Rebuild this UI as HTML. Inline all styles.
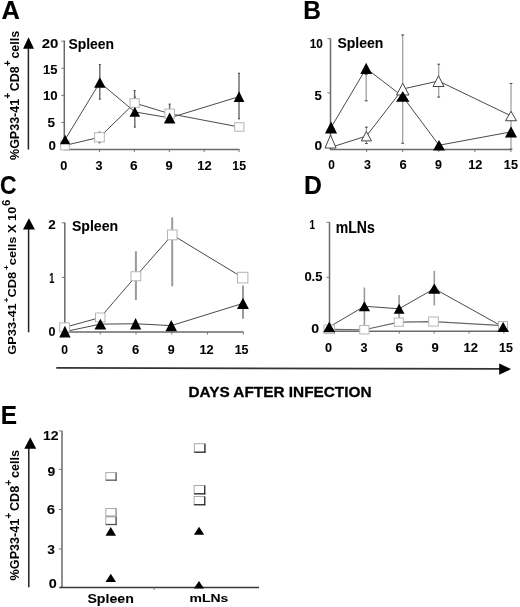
<!DOCTYPE html>
<html><head><meta charset="utf-8"><style>
html,body{margin:0;padding:0;background:#fff;}
svg{display:block;filter:grayscale(1) blur(0.3px);}
text{font-family:"Liberation Sans",sans-serif;fill:#000;stroke:#000;stroke-linejoin:round;}
</style></head><body>
<svg width="520" height="607" viewBox="0 0 520 607">
<rect width="520" height="607" fill="#fff"/>
<line x1="64.3" y1="40.5" x2="64.3" y2="149.6" stroke="#6a6a6a" stroke-width="1.5"/>
<line x1="63.599999999999994" y1="149.6" x2="239.5" y2="149.6" stroke="#6a6a6a" stroke-width="1.5"/>
<line x1="61.3" y1="41.2" x2="64.3" y2="41.2" stroke="#6a6a6a" stroke-width="0.9"/>
<line x1="61.3" y1="68.3" x2="64.3" y2="68.3" stroke="#6a6a6a" stroke-width="0.9"/>
<line x1="61.3" y1="95.4" x2="64.3" y2="95.4" stroke="#6a6a6a" stroke-width="0.9"/>
<line x1="61.3" y1="122.5" x2="64.3" y2="122.5" stroke="#6a6a6a" stroke-width="0.9"/>
<line x1="99.49" y1="149.6" x2="99.49" y2="152.1" stroke="#6a6a6a" stroke-width="0.9"/>
<line x1="134.38" y1="149.6" x2="134.38" y2="152.1" stroke="#6a6a6a" stroke-width="0.9"/>
<line x1="169.26999999999998" y1="149.6" x2="169.26999999999998" y2="152.1" stroke="#6a6a6a" stroke-width="0.9"/>
<line x1="204.16" y1="149.6" x2="204.16" y2="152.1" stroke="#6a6a6a" stroke-width="0.9"/>
<line x1="239.05" y1="149.6" x2="239.05" y2="152.1" stroke="#6a6a6a" stroke-width="0.9"/>
<line x1="99.8" y1="64.1" x2="99.8" y2="99.5" stroke="#666" stroke-width="1.4"/>
<line x1="98.8" y1="64.6" x2="100.8" y2="64.6" stroke="#555" stroke-width="1.1"/>
<line x1="98.8" y1="99.0" x2="100.8" y2="99.0" stroke="#555" stroke-width="1.1"/>
<line x1="134.8" y1="96.5" x2="134.8" y2="127.5" stroke="#666" stroke-width="1.4"/>
<line x1="133.8" y1="97.0" x2="135.8" y2="97.0" stroke="#555" stroke-width="1.1"/>
<line x1="133.8" y1="127.0" x2="135.8" y2="127.0" stroke="#555" stroke-width="1.1"/>
<line x1="134.6" y1="90" x2="134.6" y2="116" stroke="#666" stroke-width="1.4"/>
<line x1="133.6" y1="90.5" x2="135.6" y2="90.5" stroke="#555" stroke-width="1.1"/>
<line x1="133.6" y1="115.5" x2="135.6" y2="115.5" stroke="#555" stroke-width="1.1"/>
<line x1="169.6" y1="103.7" x2="169.6" y2="116" stroke="#666" stroke-width="1.4"/>
<line x1="168.6" y1="104.2" x2="170.6" y2="104.2" stroke="#555" stroke-width="1.1"/>
<line x1="168.6" y1="115.5" x2="170.6" y2="115.5" stroke="#555" stroke-width="1.1"/>
<line x1="239" y1="72.9" x2="239" y2="119.3" stroke="#666" stroke-width="1.4"/>
<line x1="238.0" y1="73.4" x2="240.0" y2="73.4" stroke="#555" stroke-width="1.1"/>
<line x1="238.0" y1="118.8" x2="240.0" y2="118.8" stroke="#555" stroke-width="1.1"/>
<line x1="99.5" y1="131.7" x2="99.5" y2="143.2" stroke="#666" stroke-width="1.4"/>
<line x1="98.5" y1="132.2" x2="100.5" y2="132.2" stroke="#555" stroke-width="1.1"/>
<line x1="98.5" y1="142.7" x2="100.5" y2="142.7" stroke="#555" stroke-width="1.1"/>
<polyline fill="none" stroke="#4a4a4a" stroke-width="1" points="65.0,145.4 99.44999999999999,137.3 134.6,103.0 169.65,113.69999999999999 239.3,127.0"/>
<polyline fill="none" stroke="#4a4a4a" stroke-width="1" points="65.1,139.55 99.85,82.5 134.85,111.9 169.65,117.9 239.05,96.65"/>
<rect x="60.7" y="140.9" width="8.599999999999994" height="9.0" fill="#fff" stroke="#b5b5b5" stroke-width="1"/>
<rect x="94.6" y="132.7" width="9.700000000000003" height="9.200000000000017" fill="#fff" stroke="#b5b5b5" stroke-width="1"/>
<rect x="130.0" y="98.7" width="9.199999999999989" height="8.599999999999994" fill="#fff" stroke="#b5b5b5" stroke-width="1"/>
<rect x="164.9" y="109.1" width="9.5" height="9.200000000000003" fill="#fff" stroke="#b5b5b5" stroke-width="1"/>
<rect x="234.7" y="122.8" width="9.200000000000017" height="8.399999999999991" fill="#fff" stroke="#b5b5b5" stroke-width="1"/>
<polygon points="65.1,134.8 70.2,144.3 60,144.3" fill="#000" stroke="none" stroke-width="1"/>
<polygon points="99.85,77.3 105.6,87.7 94.1,87.7" fill="#000" stroke="none" stroke-width="1"/>
<polygon points="134.85,107 140.2,116.8 129.5,116.8" fill="#000" stroke="none" stroke-width="1"/>
<polygon points="169.65,112.4 175.4,123.4 163.9,123.4" fill="#000" stroke="none" stroke-width="1"/>
<polygon points="239.05,91.3 244.4,102 233.7,102" fill="#000" stroke="none" stroke-width="1"/>
<line x1="330.5" y1="38.5" x2="330.5" y2="149.6" stroke="#6a6a6a" stroke-width="1.5"/>
<line x1="329.8" y1="149.6" x2="511.2" y2="149.6" stroke="#6a6a6a" stroke-width="1.5"/>
<line x1="327.5" y1="38.7" x2="330.5" y2="38.7" stroke="#6a6a6a" stroke-width="0.9"/>
<line x1="327.5" y1="92.9" x2="330.5" y2="92.9" stroke="#6a6a6a" stroke-width="0.9"/>
<line x1="366.59" y1="149.6" x2="366.59" y2="152.1" stroke="#6a6a6a" stroke-width="0.9"/>
<line x1="402.68" y1="149.6" x2="402.68" y2="152.1" stroke="#6a6a6a" stroke-width="0.9"/>
<line x1="438.77" y1="149.6" x2="438.77" y2="152.1" stroke="#6a6a6a" stroke-width="0.9"/>
<line x1="474.86" y1="149.6" x2="474.86" y2="152.1" stroke="#6a6a6a" stroke-width="0.9"/>
<line x1="510.95" y1="149.6" x2="510.95" y2="152.1" stroke="#6a6a6a" stroke-width="0.9"/>
<line x1="366.2" y1="74" x2="366.2" y2="101.3" stroke="#999" stroke-width="1.2"/>
<line x1="364.8" y1="74.5" x2="367.59999999999997" y2="74.5" stroke="#555" stroke-width="1.1"/>
<line x1="364.8" y1="100.8" x2="367.59999999999997" y2="100.8" stroke="#555" stroke-width="1.1"/>
<line x1="402.7" y1="34.5" x2="402.7" y2="143.75" stroke="#999" stroke-width="1.2"/>
<line x1="401.3" y1="35.0" x2="404.09999999999997" y2="35.0" stroke="#555" stroke-width="1.1"/>
<line x1="401.3" y1="143.25" x2="404.09999999999997" y2="143.25" stroke="#555" stroke-width="1.1"/>
<line x1="366.4" y1="126.7" x2="366.4" y2="144" stroke="#999" stroke-width="1.2"/>
<line x1="365.0" y1="127.2" x2="367.79999999999995" y2="127.2" stroke="#555" stroke-width="1.1"/>
<line x1="365.0" y1="143.5" x2="367.79999999999995" y2="143.5" stroke="#555" stroke-width="1.1"/>
<line x1="438.7" y1="63.75" x2="438.7" y2="97.5" stroke="#999" stroke-width="1.2"/>
<line x1="437.3" y1="64.25" x2="440.09999999999997" y2="64.25" stroke="#555" stroke-width="1.1"/>
<line x1="437.3" y1="97.0" x2="440.09999999999997" y2="97.0" stroke="#555" stroke-width="1.1"/>
<line x1="511" y1="83" x2="511" y2="149.6" stroke="#999" stroke-width="1.2"/>
<line x1="509.6" y1="83.5" x2="512.4" y2="83.5" stroke="#555" stroke-width="1.1"/>
<line x1="509.6" y1="149.1" x2="512.4" y2="149.1" stroke="#555" stroke-width="1.1"/>
<polyline fill="none" stroke="#4a4a4a" stroke-width="1" points="331,147.3 366.4,136.05 402.75,89.0 438.5,81.0 511.0,115.875"/>
<polyline fill="none" stroke="#4a4a4a" stroke-width="1" points="331.05,127.55 366.15,68.4 402.75,96.5 439.0,145.25 511.0,131.875"/>
<polygon points="330.55,135.10000000000002 336.1,148.0 325.0,148.0" fill="#fff" stroke="#444" stroke-width="1"/>
<polygon points="366.4,131.5 371.5,140.9 361.3,140.9" fill="#fff" stroke="#444" stroke-width="1"/>
<polygon points="402.75,83.3 409.0,95.0 396.5,95.0" fill="#fff" stroke="#444" stroke-width="1"/>
<polygon points="438.5,75.8 444.0,86.5 433.0,86.5" fill="#fff" stroke="#444" stroke-width="1"/>
<polygon points="511.0,111.3 516.5,120.75 505.5,120.75" fill="#fff" stroke="#444" stroke-width="1"/>
<polygon points="331.05,121.5 337.1,133.6 325,133.6" fill="#000" stroke="none" stroke-width="1"/>
<polygon points="366.15,62.8 372,74 360.3,74" fill="#000" stroke="none" stroke-width="1"/>
<polygon points="402.75,91.25 409.5,101.75 396,101.75" fill="#000" stroke="none" stroke-width="1"/>
<polygon points="439.0,140 445,150.5 433,150.5" fill="#000" stroke="none" stroke-width="1"/>
<polygon points="511.0,126.25 517,137.5 505,137.5" fill="#000" stroke="none" stroke-width="1"/>
<line x1="64.8" y1="222.5" x2="64.8" y2="332" stroke="#6a6a6a" stroke-width="1.5"/>
<line x1="64.1" y1="332" x2="243.4" y2="332" stroke="#6a6a6a" stroke-width="1.5"/>
<line x1="61.8" y1="222.8" x2="64.8" y2="222.8" stroke="#6a6a6a" stroke-width="0.9"/>
<line x1="61.8" y1="277.4" x2="64.8" y2="277.4" stroke="#6a6a6a" stroke-width="0.9"/>
<line x1="100.25999999999999" y1="332" x2="100.25999999999999" y2="334.5" stroke="#6a6a6a" stroke-width="0.9"/>
<line x1="136.01999999999998" y1="332" x2="136.01999999999998" y2="334.5" stroke="#6a6a6a" stroke-width="0.9"/>
<line x1="171.78" y1="332" x2="171.78" y2="334.5" stroke="#6a6a6a" stroke-width="0.9"/>
<line x1="207.54" y1="332" x2="207.54" y2="334.5" stroke="#6a6a6a" stroke-width="0.9"/>
<line x1="243.3" y1="332" x2="243.3" y2="334.5" stroke="#6a6a6a" stroke-width="0.9"/>
<line x1="135.9" y1="251.25" x2="135.9" y2="300" stroke="#9a9a9a" stroke-width="2"/>
<line x1="172.2" y1="217.4" x2="172.2" y2="286.25" stroke="#9a9a9a" stroke-width="2"/>
<line x1="243" y1="285.4" x2="243" y2="318.8" stroke="#9a9a9a" stroke-width="2"/>
<polyline fill="none" stroke="#4a4a4a" stroke-width="1" points="64.55000000000001,327.4 100.25,317.5 135.875,276.25 172.25,234.9 242.7,277.6"/>
<polyline fill="none" stroke="#4a4a4a" stroke-width="1" points="64.9,331.6 100.375,324.125 135.625,323.75 171.25,325.625 242.95,303.35"/>
<rect x="59.7" y="322.9" width="9.700000000000003" height="9.0" fill="#fff" stroke="#b5b5b5" stroke-width="1"/>
<rect x="95.5" y="313.0" width="9.5" height="9.0" fill="#fff" stroke="#b5b5b5" stroke-width="1"/>
<rect x="131.0" y="271.75" width="9.75" height="9.0" fill="#fff" stroke="#b5b5b5" stroke-width="1"/>
<rect x="167.5" y="230.0" width="9.5" height="9.800000000000011" fill="#fff" stroke="#b5b5b5" stroke-width="1"/>
<rect x="237.5" y="272.3" width="10.400000000000006" height="10.599999999999966" fill="#fff" stroke="#b5b5b5" stroke-width="1"/>
<polygon points="64.9,325.7 70.6,337.5 59.2,337.5" fill="#000" stroke="none" stroke-width="1"/>
<polygon points="100.375,318.75 106.25,329.5 94.5,329.5" fill="#000" stroke="none" stroke-width="1"/>
<polygon points="135.625,318 141.25,329.5 130,329.5" fill="#000" stroke="none" stroke-width="1"/>
<polygon points="171.25,320 177,331.25 165.5,331.25" fill="#000" stroke="none" stroke-width="1"/>
<polygon points="242.95,297.8 248.9,308.9 237,308.9" fill="#000" stroke="none" stroke-width="1"/>
<line x1="329.5" y1="222.1" x2="329.5" y2="331.2" stroke="#6a6a6a" stroke-width="1.5"/>
<line x1="328.8" y1="331.2" x2="508.5" y2="331.2" stroke="#6a6a6a" stroke-width="1.5"/>
<line x1="326.5" y1="222.3" x2="329.5" y2="222.3" stroke="#6a6a6a" stroke-width="0.9"/>
<line x1="326.5" y1="277.3" x2="329.5" y2="277.3" stroke="#6a6a6a" stroke-width="0.9"/>
<line x1="364.39" y1="331.2" x2="364.39" y2="333.7" stroke="#6a6a6a" stroke-width="0.9"/>
<line x1="399.28" y1="331.2" x2="399.28" y2="333.7" stroke="#6a6a6a" stroke-width="0.9"/>
<line x1="434.17" y1="331.2" x2="434.17" y2="333.7" stroke="#6a6a6a" stroke-width="0.9"/>
<line x1="469.06" y1="331.2" x2="469.06" y2="333.7" stroke="#6a6a6a" stroke-width="0.9"/>
<line x1="503.95000000000005" y1="331.2" x2="503.95000000000005" y2="333.7" stroke="#6a6a6a" stroke-width="0.9"/>
<line x1="364.4" y1="287.5" x2="364.4" y2="325" stroke="#9a9a9a" stroke-width="1.6"/>
<line x1="399.1" y1="295" x2="399.1" y2="318" stroke="#9a9a9a" stroke-width="1.6"/>
<line x1="434.3" y1="270.8" x2="434.3" y2="305.4" stroke="#9a9a9a" stroke-width="1.6"/>
<polyline fill="none" stroke="#666" stroke-width="1.2" points="329.25,329.3 364.375,329.75 398.75,322.125 433.5,321.55 503.0,325.65"/>
<polyline fill="none" stroke="#4a4a4a" stroke-width="1" points="329.2,327.05 364.375,306.25 399.125,308.75 434.29999999999995,288.65 503.15,327.0"/>
<rect x="324.0" y="325.0" width="10.5" height="8.600000000000023" fill="#fff" stroke="#b5b5b5" stroke-width="1"/>
<rect x="359.75" y="325.5" width="9.25" height="8.5" fill="#fff" stroke="#b5b5b5" stroke-width="1"/>
<rect x="394.25" y="318.0" width="9.0" height="8.25" fill="#fff" stroke="#b5b5b5" stroke-width="1"/>
<rect x="428.7" y="317.0" width="9.600000000000023" height="9.100000000000023" fill="#fff" stroke="#b5b5b5" stroke-width="1"/>
<rect x="498.5" y="321.5" width="9" height="8.300000000000011" fill="#fff" stroke="#b5b5b5" stroke-width="1"/>
<polygon points="329.2,321.8 335.2,332.3 323.2,332.3" fill="#000" stroke="none" stroke-width="1"/>
<polygon points="364.375,301.25 370,311.25 358.75,311.25" fill="#000" stroke="none" stroke-width="1"/>
<polygon points="399.125,303.75 404.5,313.75 393.75,313.75" fill="#000" stroke="none" stroke-width="1"/>
<polygon points="434.29999999999995,283.5 440.4,293.8 428.2,293.8" fill="#000" stroke="none" stroke-width="1"/>
<polygon points="503.15,322 508.9,332 497.4,332" fill="#000" stroke="none" stroke-width="1"/>
<line x1="62" y1="430.9" x2="62" y2="587.4" stroke="#333" stroke-width="1.1"/>
<line x1="59.3" y1="587.5" x2="259" y2="587.5" stroke="#3a3a3a" stroke-width="1.5"/>
<line x1="59" y1="430.9" x2="62" y2="430.9" stroke="#6a6a6a" stroke-width="0.9"/>
<line x1="59" y1="469.4" x2="62" y2="469.4" stroke="#6a6a6a" stroke-width="0.9"/>
<line x1="59" y1="509.5" x2="62" y2="509.5" stroke="#6a6a6a" stroke-width="0.9"/>
<line x1="59" y1="549" x2="62" y2="549" stroke="#6a6a6a" stroke-width="0.9"/>
<line x1="154.2" y1="587.4" x2="154.2" y2="590" stroke="#6a6a6a" stroke-width="0.9"/>
<rect x="105.8" y="472.6" width="10.400000000000006" height="7.699999999999989" fill="#fff" stroke="#aaa" stroke-width="1"/>
<line x1="116.10000000000001" y1="472.6" x2="116.10000000000001" y2="480.8" stroke="#666" stroke-width="1.3"/>
<line x1="105.8" y1="480.2" x2="116.7" y2="480.2" stroke="#666" stroke-width="1.3"/>
<rect x="105.8" y="508.5" width="10.400000000000006" height="7.7999999999999545" fill="#fff" stroke="#aaa" stroke-width="1"/>
<line x1="116.10000000000001" y1="508.5" x2="116.10000000000001" y2="516.8" stroke="#999" stroke-width="1.3"/>
<line x1="105.8" y1="516.1999999999999" x2="116.7" y2="516.1999999999999" stroke="#999" stroke-width="1.3"/>
<rect x="105.8" y="516.9" width="10.400000000000006" height="7.7000000000000455" fill="#fff" stroke="#aaa" stroke-width="1"/>
<line x1="116.10000000000001" y1="516.9" x2="116.10000000000001" y2="525.1" stroke="#555" stroke-width="1.3"/>
<line x1="105.8" y1="524.5" x2="116.7" y2="524.5" stroke="#555" stroke-width="1.3"/>
<rect x="194.3" y="443.7" width="10.699999999999989" height="8.600000000000023" fill="#fff" stroke="#aaa" stroke-width="1"/>
<line x1="204.9" y1="443.7" x2="204.9" y2="452.8" stroke="#333" stroke-width="1.3"/>
<line x1="194.3" y1="452.2" x2="205.5" y2="452.2" stroke="#333" stroke-width="1.3"/>
<rect x="194.1" y="485.5" width="10.700000000000017" height="8.399999999999977" fill="#fff" stroke="#aaa" stroke-width="1"/>
<line x1="204.70000000000002" y1="485.5" x2="204.70000000000002" y2="494.4" stroke="#333" stroke-width="1.3"/>
<line x1="194.1" y1="493.79999999999995" x2="205.3" y2="493.79999999999995" stroke="#333" stroke-width="1.3"/>
<rect x="194.1" y="496.5" width="10.700000000000017" height="8.300000000000011" fill="#fff" stroke="#aaa" stroke-width="1"/>
<line x1="204.70000000000002" y1="496.5" x2="204.70000000000002" y2="505.3" stroke="#333" stroke-width="1.3"/>
<line x1="194.1" y1="504.7" x2="205.3" y2="504.7" stroke="#333" stroke-width="1.3"/>
<polygon points="110.75,527.1 116,535.7 105.5,535.7" fill="#000" stroke="none" stroke-width="1"/>
<polygon points="110.75,573.7 116,582.1 105.5,582.1" fill="#000" stroke="none" stroke-width="1"/>
<polygon points="199.05,526.8 204.2,534.7 193.9,534.7" fill="#000" stroke="none" stroke-width="1"/>
<polygon points="198.95,580.9 204,588.5 193.9,588.5" fill="#000" stroke="none" stroke-width="1"/>
<line x1="28.4" y1="47.75" x2="28.4" y2="149.5" stroke="#222" stroke-width="1.5"/>
<polygon points="28.55,37.25 34,48.75 23.1,48.75" fill="#000"/>
<line x1="28.6" y1="228.6" x2="28.6" y2="332.3" stroke="#222" stroke-width="1.5"/>
<polygon points="28.95,218.2 34.9,229.6 23,229.6" fill="#000"/>
<line x1="28.8" y1="447.8" x2="28.8" y2="587.3" stroke="#222" stroke-width="1.5"/>
<polygon points="30.25,437.3 36.2,448.8 24.3,448.8" fill="#000"/>
<line x1="56.25" y1="367.9" x2="500" y2="368.9" stroke="#333" stroke-width="1.8"/>
<polygon points="499.2,363.5 511.1,369.1 499.2,374.7" fill="#000"/>
<text transform="matrix(0.25441,0,0,0.25000,1.391,18.500)" font-size="100" font-weight="bold" stroke-width="0.6">A</text>
<text transform="matrix(0.24516,0,0,0.25725,303.329,18.750)" font-size="100" font-weight="bold" stroke-width="0.6">B</text>
<text transform="matrix(0.22879,0,0,0.26056,0.085,193.639)" font-size="100" font-weight="bold" stroke-width="0.6">C</text>
<text transform="matrix(0.24839,0,0,0.25797,304.010,193.900)" font-size="100" font-weight="bold" stroke-width="0.6">D</text>
<text transform="matrix(0.24386,0,0,0.26087,0.737,423.900)" font-size="100" font-weight="bold" stroke-width="0.6">E</text>
<text transform="matrix(0.13918,0,0,0.14362,68.382,48.684)" font-size="100" font-weight="bold" stroke-width="0.6">Spleen</text>
<text transform="matrix(0.14013,0,0,0.14362,337.380,48.384)" font-size="100" font-weight="bold" stroke-width="0.6">Spleen</text>
<text transform="matrix(0.14107,0,0,0.15319,71.877,230.783)" font-size="100" font-weight="bold" stroke-width="0.6">Spleen</text>
<text transform="matrix(0.14067,0,0,0.15714,335.756,232.643)" font-size="100" font-weight="bold" stroke-width="0.6">mLNs</text>
<text transform="matrix(0.14169,0,0,0.12021,87.375,602.676)" font-size="100" font-weight="bold" stroke-width="0.6">Spleen</text>
<text transform="matrix(0.13993,0,0,0.10857,189.460,601.791)" font-size="100" font-weight="bold" stroke-width="0.6">mLNs</text>
<text transform="matrix(0.15360,0,0,0.14795,188.378,396.804)" font-size="100" font-weight="bold" stroke-width="2">DAYS AFTER INFECTION</text>
<text transform="matrix(0.15000,0,0,0.12958,41.750,48.370)" font-size="100" font-weight="bold" stroke-width="0.6">20</text>
<text transform="matrix(0.13010,0,0,0.13286,43.019,73.667)" font-size="100" font-weight="bold" stroke-width="0.6">15</text>
<text transform="matrix(0.13267,0,0,0.12113,43.004,99.679)" font-size="100" font-weight="bold" stroke-width="0.6">10</text>
<text transform="matrix(0.13600,0,0,0.13143,47.592,126.869)" font-size="100" font-weight="bold" stroke-width="0.6">5</text>
<text transform="matrix(0.13333,0,0,0.12535,48.467,150.475)" font-size="100" font-weight="bold" stroke-width="0.6">0</text>
<text transform="matrix(0.12708,0,0,0.12676,60.292,169.673)" font-size="100" font-weight="bold" stroke-width="0.6">0</text>
<text transform="matrix(0.12600,0,0,0.12676,95.548,169.673)" font-size="100" font-weight="bold" stroke-width="0.6">3</text>
<text transform="matrix(0.13673,0,0,0.12676,129.990,169.673)" font-size="100" font-weight="bold" stroke-width="0.6">6</text>
<text transform="matrix(0.12857,0,0,0.12958,165.414,169.870)" font-size="100" font-weight="bold" stroke-width="0.6">9</text>
<text transform="matrix(0.12970,0,0,0.13143,197.322,170.000)" font-size="100" font-weight="bold" stroke-width="0.6">12</text>
<text transform="matrix(0.12330,0,0,0.13143,232.360,169.869)" font-size="100" font-weight="bold" stroke-width="0.6">15</text>
<text transform="matrix(0.11782,0,0,0.13099,309.793,47.569)" font-size="100" font-weight="bold" stroke-width="0.6">10</text>
<text transform="matrix(0.13200,0,0,0.12714,314.604,99.973)" font-size="100" font-weight="bold" stroke-width="0.6">5</text>
<text transform="matrix(0.13750,0,0,0.12535,314.450,150.475)" font-size="100" font-weight="bold" stroke-width="0.6">0</text>
<text transform="matrix(0.11875,0,0,0.12394,328.225,169.276)" font-size="100" font-weight="bold" stroke-width="0.6">0</text>
<text transform="matrix(0.12400,0,0,0.12394,363.952,169.276)" font-size="100" font-weight="bold" stroke-width="0.6">3</text>
<text transform="matrix(0.13061,0,0,0.12394,399.408,169.276)" font-size="100" font-weight="bold" stroke-width="0.6">6</text>
<text transform="matrix(0.12449,0,0,0.12676,435.027,169.473)" font-size="100" font-weight="bold" stroke-width="0.6">9</text>
<text transform="matrix(0.12772,0,0,0.12714,468.234,169.100)" font-size="100" font-weight="bold" stroke-width="0.6">12</text>
<text transform="matrix(0.12718,0,0,0.12857,503.837,169.471)" font-size="100" font-weight="bold" stroke-width="0.6">15</text>
<text transform="matrix(0.13469,0,0,0.13286,48.296,229.100)" font-size="100" font-weight="bold" stroke-width="0.6">2</text>
<text transform="matrix(0.09149,0,0,0.13768,49.251,282.600)" font-size="100" font-weight="bold" stroke-width="0.6">1</text>
<text transform="matrix(0.12500,0,0,0.12535,48.600,336.175)" font-size="100" font-weight="bold" stroke-width="0.6">0</text>
<text transform="matrix(0.12083,0,0,0.11972,61.217,353.680)" font-size="100" font-weight="bold" stroke-width="0.6">0</text>
<text transform="matrix(0.11600,0,0,0.11972,96.668,353.680)" font-size="100" font-weight="bold" stroke-width="0.6">3</text>
<text transform="matrix(0.13061,0,0,0.11972,131.908,353.680)" font-size="100" font-weight="bold" stroke-width="0.6">6</text>
<text transform="matrix(0.12449,0,0,0.12676,167.727,354.173)" font-size="100" font-weight="bold" stroke-width="0.6">9</text>
<text transform="matrix(0.12772,0,0,0.12857,199.434,354.300)" font-size="100" font-weight="bold" stroke-width="0.6">12</text>
<text transform="matrix(0.12524,0,0,0.12857,234.649,354.171)" font-size="100" font-weight="bold" stroke-width="0.6">15</text>
<text transform="matrix(0.10000,0,0,0.13623,309.500,228.800)" font-size="100" font-weight="bold" stroke-width="0.6">1</text>
<text transform="matrix(0.13008,0,0,0.12535,304.380,281.175)" font-size="100" font-weight="bold" stroke-width="0.6">0.5</text>
<text transform="matrix(0.14167,0,0,0.12958,311.133,333.370)" font-size="100" font-weight="bold" stroke-width="0.6">0</text>
<text transform="matrix(0.12708,0,0,0.12817,324.892,351.672)" font-size="100" font-weight="bold" stroke-width="0.6">0</text>
<text transform="matrix(0.12600,0,0,0.12817,360.548,351.672)" font-size="100" font-weight="bold" stroke-width="0.6">3</text>
<text transform="matrix(0.13673,0,0,0.12817,395.590,351.672)" font-size="100" font-weight="bold" stroke-width="0.6">6</text>
<text transform="matrix(0.13061,0,0,0.12817,431.508,351.672)" font-size="100" font-weight="bold" stroke-width="0.6">9</text>
<text transform="matrix(0.12970,0,0,0.13000,463.422,351.800)" font-size="100" font-weight="bold" stroke-width="0.6">12</text>
<text transform="matrix(0.12524,0,0,0.13000,499.049,351.670)" font-size="100" font-weight="bold" stroke-width="0.6">15</text>
<text transform="matrix(0.14059,0,0,0.13000,43.056,440.000)" font-size="100" font-weight="bold" stroke-width="0.6">12</text>
<text transform="matrix(0.13878,0,0,0.12535,47.584,475.675)" font-size="100" font-weight="bold" stroke-width="0.6">9</text>
<text transform="matrix(0.15102,0,0,0.12254,46.647,513.777)" font-size="100" font-weight="bold" stroke-width="0.6">6</text>
<text transform="matrix(0.13800,0,0,0.12817,47.324,554.172)" font-size="100" font-weight="bold" stroke-width="0.6">3</text>
<text transform="matrix(0.14375,0,0,0.12817,48.625,587.972)" font-size="100" font-weight="bold" stroke-width="0.6">0</text>
<text transform="matrix(0,-0.12515,0.12973,0,18.770,159.975)" font-size="100" font-weight="bold" stroke-width="0"><tspan>%GP33-41</tspan><tspan font-size="80" dy="-57">+</tspan><tspan dy="57" dx="14">CD8</tspan><tspan font-size="80" dy="-57">+</tspan><tspan dy="57" dx="14">cells</tspan></text>
<text transform="matrix(0,-0.12858,0.11622,0,15.684,354.714)" font-size="100" font-weight="bold" stroke-width="0"><tspan>GP33-41</tspan><tspan font-size="65" dy="-60" dx="6">+</tspan><tspan dy="60">CD8</tspan><tspan font-size="65" dy="-60" dx="14">+</tspan><tspan dy="60">cells X 10</tspan><tspan font-size="88" dy="-52" dx="4">6</tspan></text>
<text transform="matrix(0,-0.12632,0.12838,0,19.072,580.379)" font-size="100" font-weight="bold" stroke-width="0"><tspan>%GP33-41</tspan><tspan font-size="80" dy="-57">+</tspan><tspan dy="57" dx="14">CD8</tspan><tspan font-size="80" dy="-57">+</tspan><tspan dy="57" dx="14">cells</tspan></text>
</svg>
</body></html>
